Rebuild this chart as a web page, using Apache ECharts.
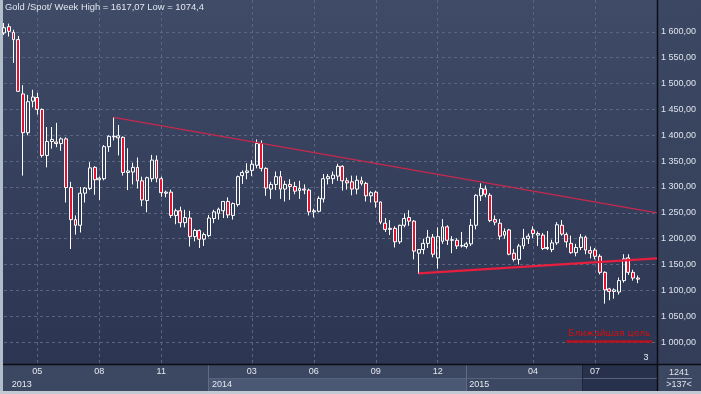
<!DOCTYPE html>
<html><head><meta charset="utf-8">
<script src="https://cdn.jsdelivr.net/npm/echarts@6/dist/echarts.min.js"></script>
<style>html,body{margin:0;padding:0;background:#333e58;}#c{width:701px;height:394px;}</style>
</head><body><div id="c"></div>
<script>
const titleText = 'Gold /Spot/ Week High = 1617,07 Low = 1074,4';
const opens  = [1598,1610,1599,1585,1480,1405,1466,1473,1450,1361,1388,1387,1384,1393,1299,1237,1226,1288,1297,1338,1314,1316,1378,1397,1395,1396,1328,1329,1338,1312,1274,1316,1352,1316,1288,1290,1245,1254,1231,1240,1204,1216,1199,1206,1239,1249,1254,1272,1245,1266,1322,1328,1332,1342,1384,1336,1296,1305,1320,1296,1305,1301,1293,1296,1294,1252,1253,1277,1316,1316,1321,1340,1312,1310,1296,1312,1307,1283,1290,1271,1230,1218,1220,1194,1226,1241,1234,1172,1179,1191,1203,1163,1195,1223,1197,1197,1186,1185,1190,1226,1283,1296,1284,1237,1230,1207,1217,1172,1160,1186,1200,1217,1207,1207,1181,1179,1192,1226,1208,1191,1173,1183,1203,1177,1178,1166,1135,1103,1098,1097,1119,1163,1135,1124];
const highs  = [1617.07,1616,1604,1592,1497,1478,1488,1482,1452,1416,1416,1424,1396,1396,1310,1245,1300,1300,1348,1340,1320,1381,1400,1434.6,1420,1398,1375,1347,1357,1320,1320,1362,1361,1320,1293,1295,1258,1262,1256,1254,1219,1218,1212,1246,1256,1260,1273,1280,1270,1322,1332,1346,1352,1392,1390,1338,1310,1330,1331,1312,1315,1310,1312,1305,1297,1258,1282,1325,1325,1330,1345,1342,1318,1322,1322,1320,1310,1292,1293,1272,1240,1236,1224,1227,1249,1255,1236,1180,1200,1217,1209,1222,1238,1226,1205,1201,1213,1194,1238,1286,1307,1303,1288,1245,1238,1220,1219,1180,1190,1219,1210,1224,1214,1211,1215,1198,1232,1236,1212,1206,1190,1209,1206,1185,1182,1170,1137,1105,1104,1125,1170,1170,1140,1129];
const lows   = [1594,1591,1540,1484,1322,1400,1454,1440,1357,1338,1374,1377,1370,1270,1180,1208,1212,1270,1294,1285,1275,1313,1368,1390,1361,1322,1294,1305,1297,1263,1251,1310,1309,1281,1280,1240,1228,1222,1222,1185,1195,1182,1186,1203,1230,1237,1240,1240,1237,1262,1306,1315,1321,1336,1330,1283,1277,1294,1277,1272,1275,1286,1277,1286,1245,1241,1251,1270,1305,1306,1312,1293,1295,1284,1286,1303,1272,1270,1260,1228,1213,1207,1183,1190,1222,1225,1160,1132,1170,1182,1164,1142,1190,1188,1172,1180,1183,1181,1186,1218,1273,1280,1232,1226,1198,1200,1168,1156,1150,1180,1190,1201,1186,1178,1178,1174,1188,1206,1183,1171,1166,1178,1170,1162,1160,1131,1074.4,1081,1084,1092,1115,1130,1119,1114];
const closes = [1608,1601,1585,1485,1405,1465,1474,1450,1361,1388,1392,1384,1393,1299,1237,1226,1288,1298,1337,1314,1317,1378,1398,1398,1399,1328,1331,1338,1312,1275,1318,1352,1317,1289,1290,1245,1254,1231,1241,1204,1216,1199,1208,1240,1252,1257,1272,1246,1268,1320,1328,1331,1344,1384,1336,1298,1305,1320,1296,1305,1301,1292,1297,1294,1252,1254,1278,1316,1320,1323,1340,1312,1308,1296,1313,1307,1283,1289,1271,1232,1218,1220,1194,1226,1239,1234,1176,1179,1191,1203,1170,1204,1223,1197,1198,1186,1187,1190,1226,1284,1297,1286,1235,1232,1205,1214,1170,1160,1186,1201,1205,1210,1210,1181,1183,1192,1227,1209,1194,1173,1183,1203,1178,1172,1166,1135,1101,1098,1101,1119,1161,1135,1124,1121.83];
const slotCount = 138;
const monthTicks  = [7, 20, 33, 52, 65, 78, 91, 111, 124];
const monthLabels = ['05','08','11','03','06','09','12','04','07'];
const yearTicks   = [1, 43, 97];
const yearLabels  = ['2013','2014','2015'];
const trendUpper  = [[23, 1434.6], [137, 1250]];
const trendLower  = [[87, 1133], [137, 1162]];
const targetLine  = [[118, 1001], [136, 1001]];
const targetText  = 'Ближайшая цель';
const lastPrice   = 1121.83;
const footTop = '1241', footBottom = '>137<', cornerNote = '3';

const slots = Array.from({length: slotCount}, (_, i) => String(i));
const candles = opens.map((o, i) => [o, closes[i], lows[i], highs[i]]);
const FONT = '"Liberation Sans", Arial, sans-serif';
function fmt(v) {
  const s = v.toFixed(2).split('.');
  return s[0].replace(/\B(?=(\d{3})+(?!\d))/g, ' ') + ',' + s[1];
}

const chart = echarts.init(document.getElementById('c'), null, {renderer: 'canvas'});
chart.setOption({
  animation: false,
  backgroundColor: {type: 'linear', x: 0, y: 0, x2: 0, y2: 1,
    colorStops: [{offset: 0, color: '#3f4b67'}, {offset: 0.92, color: '#2c3551'}, {offset: 1, color: '#2c3551'}]},
  title: {text: titleText, left: 5, top: 3, padding: 0,
    textStyle: {color: '#e2e7ef', fontSize: 9.4, fontWeight: 'normal', fontFamily: FONT}},
  grid: [
    {left: 4, right: 44, top: 6, bottom: 26},
    {left: 4, right: 44, top: 0, bottom: 30}
  ],
  xAxis: [
    {type: 'category', gridIndex: 0, data: slots, boundaryGap: false, show: false},
    {type: 'category', gridIndex: 1, data: slots, boundaryGap: false, position: 'bottom', z: 4,
      axisLine: {show: false}, axisTick: {show: false},
      splitLine: {show: true, interval: (i) => monthTicks.includes(i),
        lineStyle: {color: '#5a6681', type: [3, 3], width: 1}},
      axisLabel: {interval: (i) => monthTicks.includes(i), margin: 3,
        formatter: (v, i) => { const k = monthTicks.indexOf(i); return k >= 0 ? monthLabels[k] : ''; },
        color: (v, i) => (i === 124 ? '#7b859a' : '#e4e9f0'),
        fontSize: 9, fontFamily: FONT}},
    {type: 'category', gridIndex: 1, data: slots, boundaryGap: false, position: 'bottom', offset: 13, z: 4,
      axisLine: {show: false}, axisTick: {show: false}, splitLine: {show: false},
      axisLabel: {interval: (i) => yearTicks.includes(i), margin: 3, align: 'left', padding: [0, 0, 0, 3],
        formatter: (v, i) => { const k = yearTicks.indexOf(i); return k >= 0 ? yearLabels[k] : ''; },
        color: '#e4e9f0', fontSize: 9, fontFamily: FONT}}
  ],
  yAxis: [
    {type: 'value', gridIndex: 0, position: 'right', min: 950, max: 1650, interval: 50, z: 4,
      axisLine: {show: false}, axisTick: {show: false},
      axisLabel: {formatter: fmt, color: '#dfe5ee', fontSize: 9, margin: 4, fontFamily: FONT,
        showMinLabel: false, showMaxLabel: false},
      splitLine: {show: true, showMinLine: false, showMaxLine: false,
        lineStyle: {color: '#5a6681', type: [3, 3], width: 1}}},
    {type: 'value', gridIndex: 1, show: false, splitLine: {show: false}}
  ],
  series: [{
    type: 'candlestick', xAxisIndex: 0, yAxisIndex: 0, data: candles, z: 6,
    barWidth: 3.4,
    itemStyle: {color: 'transparent', color0: '#e3102f', borderColor: '#ffffff', borderColor0: '#ffffff', borderWidth: 1},
    markLine: {
      symbol: 'none', silent: true, animation: false, z: 7,
      label: {show: false},
      data: [
        [{coord: trendUpper[0], lineStyle: {color: '#c8284c', width: 1.3, type: 'solid'}}, {coord: trendUpper[1]}],
        [{coord: trendLower[0], lineStyle: {color: '#e81e3e', width: 2.2, type: 'solid'}}, {coord: trendLower[1]}],
        [{coord: targetLine[0], lineStyle: {color: '#b3121e', width: 2.5, type: 'solid'},
          label: {show: true, formatter: targetText, position: 'insideMiddleTop', distance: 3,
            color: '#d8100f', fontSize: 9, fontFamily: '"DejaVu Sans", sans-serif'}},
         {coord: targetLine[1]}],
        {yAxis: lastPrice, lineStyle: {opacity: 0},
          label: {show: true, position: 'end', distance: 1, formatter: fmt(lastPrice),
            backgroundColor: '#c9cdd5', color: '#1c1f26', padding: [2, 2, 1, 3], fontSize: 9, fontFamily: FONT}}
      ]
    }
  }],
  graphic: [
    {type: 'rect', z: 1, shape: {x: 657, y: 0, width: 44, height: 364},
      style: {fill: {type: 'linear', x: 0, y: 0, x2: 0, y2: 1, colorStops: [{offset: 0, color: '#3c4863'}, {offset: 1, color: '#333d58'}]}}},
    {type: 'rect', z: 1, shape: {x: 0, y: 364, width: 701, height: 30}, style: {fill: '#3c4862'}},
    {type: 'rect', z: 1, shape: {x: 209, y: 378, width: 257, height: 13}, style: {fill: '#4b5874'}},
    {type: 'rect', z: 1, shape: {x: 582, y: 365, width: 75, height: 26}, style: {fill: '#28314b'}},
    {type: 'line', z: 1, shape: {x1: 209, y1: 378.5, x2: 657, y2: 378.5}, style: {stroke: '#56627c', lineWidth: 1}},
    {type: 'line', z: 1, shape: {x1: 208.5, y1: 365, x2: 208.5, y2: 391}, style: {stroke: '#5f6b86', lineWidth: 1}},
    {type: 'line', z: 1, shape: {x1: 466.5, y1: 365, x2: 466.5, y2: 391}, style: {stroke: '#5f6b86', lineWidth: 1}},
    {type: 'line', z: 1, shape: {x1: 582.5, y1: 365, x2: 582.5, y2: 391}, style: {stroke: '#1e2538', lineWidth: 1}},
    {type: 'line', z: 2, shape: {x1: 0, y1: 364.5, x2: 701, y2: 364.5}, style: {stroke: '#0b0e16', lineWidth: 1.5}},
    {type: 'line', z: 2, shape: {x1: 657.5, y1: 0, x2: 657.5, y2: 391}, style: {stroke: '#0b0e16', lineWidth: 1.5}},
    {type: 'rect', z: 2, shape: {x: 0, y: 0, width: 3, height: 394}, style: {fill: '#b2bdca'}},
    {type: 'rect', z: 2, shape: {x: 0, y: 391, width: 701, height: 3}, style: {fill: '#c2c9d2'}},
    {type: 'text', z: 3, style: {x: 679, y: 373, text: footTop, fill: '#dfe4ec', fontSize: 9, fontFamily: FONT, align: 'center', verticalAlign: 'middle'}},
    {type: 'line', z: 3, shape: {x1: 667, y1: 378.5, x2: 692, y2: 378.5}, style: {stroke: '#9aa4b4', lineWidth: 1}},
    {type: 'text', z: 3, style: {x: 679, y: 385, text: footBottom, fill: '#dfe4ec', fontSize: 9, fontFamily: FONT, align: 'center', verticalAlign: 'middle'}},
    {type: 'text', z: 3, style: {x: 646, y: 358, text: cornerNote, fill: '#e8ecf2', fontSize: 9, fontFamily: FONT, align: 'center', verticalAlign: 'middle'}}
  ]
});
</script></body></html>
